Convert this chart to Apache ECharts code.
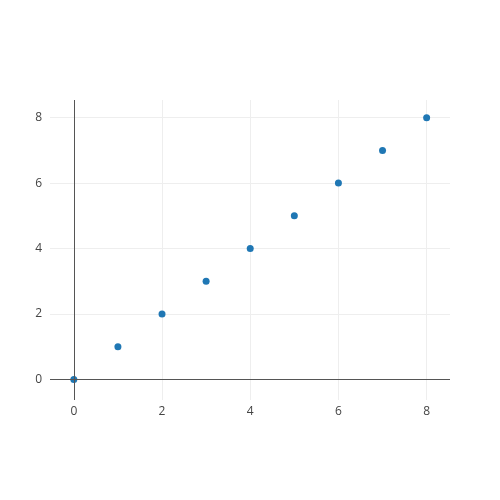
<!DOCTYPE html>
<html>
<head>
<meta charset="utf-8">
<script src="https://cdn.jsdelivr.net/npm/echarts@6/dist/echarts.min.js"></script>
<style>
  html, body { margin: 0; padding: 0; background: #fff; }
  #chart { width: 500px; height: 500px; }
</style>
</head>
<body>
<div id="chart"></div>
<script>
var xValues = [0, 1, 2, 3, 4, 5, 6, 7, 8];
var yValues = [0, 1, 2, 3, 4, 5, 6, 7, 8];
var tickValues = [0, 2, 4, 6, 8];

var myChart = echarts.init(document.getElementById("chart"));
var points = xValues.map(function (x, i) {
  return [x, yValues[i]];
});

var option = {
  animation: false,
  grid: { left: 50, right: 50, top: 100, bottom: 100 },
  xAxis: {
    type: "value",
    min: -0.54,
    max: 8.53,
    axisLine: { show: false },
    axisTick: { show: false, customValues: tickValues },
    axisLabel: {
      customValues: tickValues,
      color: "#444",
      fontFamily: "Open Sans",
      fontSize: 12,
      margin: 6,
    },
    splitLine: { show: true, lineStyle: { color: "#eee", width: 1 } },
  },
  yAxis: {
    type: "value",
    min: -0.63,
    max: 8.54,
    axisLine: { show: false },
    axisTick: { show: false, customValues: tickValues },
    axisLabel: {
      customValues: tickValues,
      color: "#444",
      fontFamily: "Open Sans",
      fontSize: 12,
      margin: 8,
    },
    splitLine: { show: true, lineStyle: { color: "#eee", width: 1 } },
  },
  series: [
    {
      type: "scatter",
      data: points,
      symbol: "circle",
      symbolSize: 7,
      itemStyle: { color: "#1f77b4", opacity: 1 },
      markLine: {
        silent: true,
        symbol: "none",
        label: { show: false },
        lineStyle: { color: "#555", width: 1, type: "solid" },
        data: [{ xAxis: 0 }, { yAxis: 0 }],
      },
    },
  ],
};
myChart.setOption(option);
</script>
</body>
</html>
